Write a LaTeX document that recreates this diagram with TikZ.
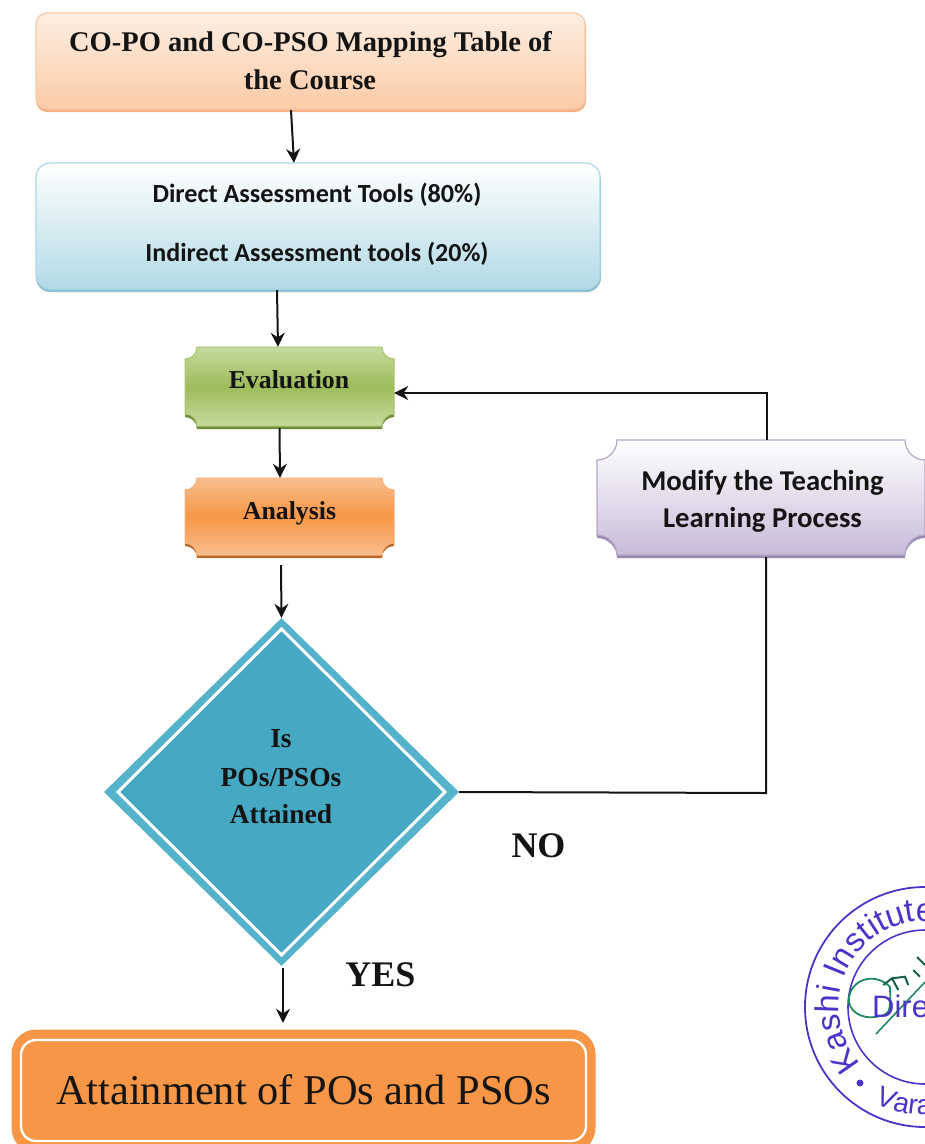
\documentclass[tikz,border=0pt]{standalone}
\usepackage{fontspec}
\setmainfont{Liberation Serif}
\newfontfamily\carlito{Carlito}
\newfontfamily\stampfont{Liberation Sans}
\usetikzlibrary{arrows.meta,decorations.text,shapes.geometric}
\definecolor{ink}{HTML}{141414}
\definecolor{stampblue}{HTML}{4A35C8}
\definecolor{signgreen}{HTML}{1F8A5F}
\definecolor{teal}{HTML}{46A9C3}
\definecolor{tealedge}{HTML}{55B2CB}
\definecolor{attain}{HTML}{F79646}
\definecolor{oshadow}{HTML}{F4B183}
\definecolor{otop}{HTML}{FDEEE2}
\definecolor{obot}{HTML}{FBCBA6}
\definecolor{oedge}{HTML}{F8C9A5}
\definecolor{bshadow}{HTML}{8FBFD0}
\definecolor{bbot}{HTML}{B2DAE6}
\definecolor{bedge}{HTML}{A9D8E6}
\definecolor{gshadow}{HTML}{6E8A3A}
\definecolor{gtop}{HTML}{C6DA9F}
\definecolor{gmid}{HTML}{9CBC5A}
\definecolor{gedge}{HTML}{A9C66E}
\definecolor{ashadow}{HTML}{B86A2C}
\definecolor{atop}{HTML}{F9BE8E}
\definecolor{aedge}{HTML}{F9B27A}
\definecolor{pshadow}{HTML}{9A88B2}
\definecolor{pbot}{HTML}{C8BBD9}
\definecolor{pedge}{HTML}{B4A7C8}
\tikzset{
  flow/.style={draw=ink,line width=2pt,-{Stealth[length=14pt,width=14pt]}},
  flowline/.style={draw=ink,line width=2pt},
  serifb/.style={font=\fontsize{#1}{#1}\selectfont\bfseries,text=ink,inner sep=0pt},
  carlitob/.style={font=\fontsize{#1}{#1}\selectfont\carlito\bfseries,text=ink,inner sep=0pt},
}
% x0 ytop x1 ybot r (y values negative)
\newcommand{\plaquepath}[5]{
  (#1+#5,#2) -- (#3-#5,#2) arc[start angle=180,end angle=270,radius=#5]
  -- (#3,#4+#5) arc[start angle=90,end angle=180,radius=#5]
  -- (#1+#5,#4) arc[start angle=0,end angle=90,radius=#5]
  -- (#1,#2-#5) arc[start angle=270,end angle=360,radius=#5] -- cycle}
\begin{document}
\begin{tikzpicture}[x=1pt,y=1pt]
\useasboundingbox (0,0) rectangle (925,-1144);
\clip (0,0) rectangle (925,-1144);

% --- box 1
\fill[rounded corners=11pt,fill=oshadow] (36,-16) rectangle (586,-112);
\shade[rounded corners=11pt,top color=otop,bottom color=obot,draw=oedge,line width=1.2pt] (36,-13) rectangle (585,-109);
\node[inner sep=0pt,minimum width=549pt,minimum height=97pt] (mapping) at (310.5,-61.5) {};
\node[serifb=28.5] (mappingA) at (310.5,-44.5) {CO-PO and CO-PSO Mapping Table of};
\node[serifb=28.5] (mappingB) at (310,-80) {the Course};

% --- box 2
\fill[rounded corners=14pt,fill=bshadow] (36,-166) rectangle (601,-292);
\shade[rounded corners=14pt,top color=white,bottom color=bbot,draw=bedge,line width=1.2pt] (36,-163) rectangle (600,-289);
\node[inner sep=0pt,minimum width=564pt,minimum height=127pt] (tools) at (318,-226.5) {};
\node[carlitob=26.2] (toolsA) at (317,-195) {Direct Assessment Tools (80\%)};
\node[carlitob=26] (toolsB) at (317,-253.5) {Indirect Assessment tools (20\%)};

% --- evaluation
\fill[fill=gshadow] \plaquepath{185}{-350}{394}{-429}{12};
\shade[top color=gtop,bottom color=gtop,middle color=gmid,draw=gedge,line width=1pt] \plaquepath{185}{-347}{394}{-426}{12};
\node[inner sep=0pt,minimum width=209pt,minimum height=81pt] (evaluation) at (289.5,-387.5) {};
\node[serifb=25.8] (evaluationT) at (289,-380) {Evaluation};

% --- analysis
\fill[fill=ashadow] \plaquepath{185}{-481}{394}{-558}{12};
\shade[top color=atop,bottom color=atop,middle color=attain,draw=aedge,line width=1pt] \plaquepath{185}{-478}{394}{-555}{12};
\node[inner sep=0pt,minimum width=209pt,minimum height=80pt] (analysis) at (289.5,-518) {};
\node[serifb=25.8] (analysisT) at (289.5,-513.5) {Analysis};

% --- modify
\fill[fill=pshadow] \plaquepath{597}{-443}{925}{-558}{20};
\shade[top color=white,bottom color=pbot,draw=pedge,line width=1.2pt] \plaquepath{597}{-440}{925}{-555}{20};
\node[inner sep=0pt,minimum width=328pt,minimum height=117pt] (modify) at (761,-498.5) {};
\node[carlitob=28.7] (modifyA) at (762.5,-483) {Modify the Teaching};
\node[carlitob=28.7] (modifyB) at (762.5,-520) {Learning Process};

% --- diamond
\node[diamond,aspect=1.02,inner sep=0pt,minimum width=355pt,minimum height=348pt,fill=tealedge] (decision) at (281.5,-792) {};
\draw[fill=teal,draw=white,line width=3pt] (281.5,-629) -- (445,-792) -- (281.5,-955) -- (118,-792) -- cycle;
\node[serifb=27.5] (decisionA) at (281,-739) {Is};
\node[serifb=27.5] (decisionB) at (281,-777.5) {POs/PSOs};
\node[serifb=27.5] (decisionC) at (281,-814) {Attained};

% --- attainment
\draw[attain,fill=attain,line width=1pt,rounded corners=24pt] (12,-1030) rectangle (595,-1152);
\draw[white,line width=2.4pt,rounded corners=15pt,fill=attain] (21,-1040) rectangle (586,-1141);
\node[inner sep=0pt,minimum width=583pt,minimum height=114pt] (attainment) at (303.5,-1087) {};
\node[font=\fontsize{42.4}{42.4}\selectfont,text=ink,inner sep=0pt] (attainmentT) at (303.5,-1090) {Attainment of POs and PSOs};

% --- labels
\node[serifb=36] (no) at (538.5,-846) {NO};
\node[serifb=36] (yes) at (380.5,-975) {YES};

% --- connectors
\draw[flow] ([xshift=-19.5pt]mapping.south) -- ([xshift=-24pt]tools.north);
\draw[flow] ([xshift=-41pt]tools.south) -- ([xshift=-11.5pt]evaluation.north);
\draw[flow] ([xshift=-10pt]evaluation.south) -- ([xshift=-9.5pt]analysis.north);
\draw[flow] ([xshift=-8.5pt,yshift=-7pt]analysis.south) -- (decision.north);
\draw[flow] ([xshift=1.5pt,yshift=-2pt]decision.south) -- ([xshift=-20.5pt,yshift=7pt]attainment.north);
\draw[flowline] (decision.east) -- (766,-793) -- (modify.south -| 766,-793);
\draw[flow] (modify.north -| 767,-400) -- (767,-393) -- (evaluation.east |- 767,-393);

% --- stamp
\begin{scope}[shift={(925,-1007)}]
  \draw[stampblue,line width=1.8pt] (0,0) circle[radius=120];
  \draw[stampblue,line width=1.6pt] (0,0) circle[radius=77];
  \path[postaction={decorate,decoration={text along path,text align=left,
        text={|\fontsize{33}{33}\selectfont\stampfont\color{stampblue}|Kashi Institute}}}]
     (222:86) arc[start angle=222,end angle=70,radius=86];
  \path[postaction={decorate,decoration={text along path,text align=left,
        text={|\fontsize{28}{28}\selectfont\stampfont\color{stampblue}|Vara}}}]
     (242.4:108) arc[start angle=242.4,end angle=295,radius=108];
  \fill[stampblue] (-65,-76) circle[radius=3.5];
  \draw[signgreen,line width=1.8pt] (-35,20) .. controls (-48,34) and (-72,30) .. (-76,10)
     .. controls (-78,-5) and (-62,-12) .. (-50,-10) .. controls (-40,-9) and (-36,-5) .. (-36,-3)
     .. controls (-34,5) and (-35,15) .. (-35,20);
  \draw[signgreen,line width=1.6pt] (-49,-27) -- (0,25);
  \draw[signgreen!70!black,line width=2pt] (-41.7,22) -- (-33,28.7) -- (-26.7,17)
     (-33,28.7) -- (-20,30.3) -- (-16.7,22) (-11.7,37) -- (-5,30.3) (-8,50) -- (0,42);
  \node[font=\fontsize{31}{31}\selectfont\stampfont,text=stampblue,inner sep=0pt,anchor=base west] (dire) at (-53,-10) {Dire};
\end{scope}
\end{tikzpicture}
\end{document}
